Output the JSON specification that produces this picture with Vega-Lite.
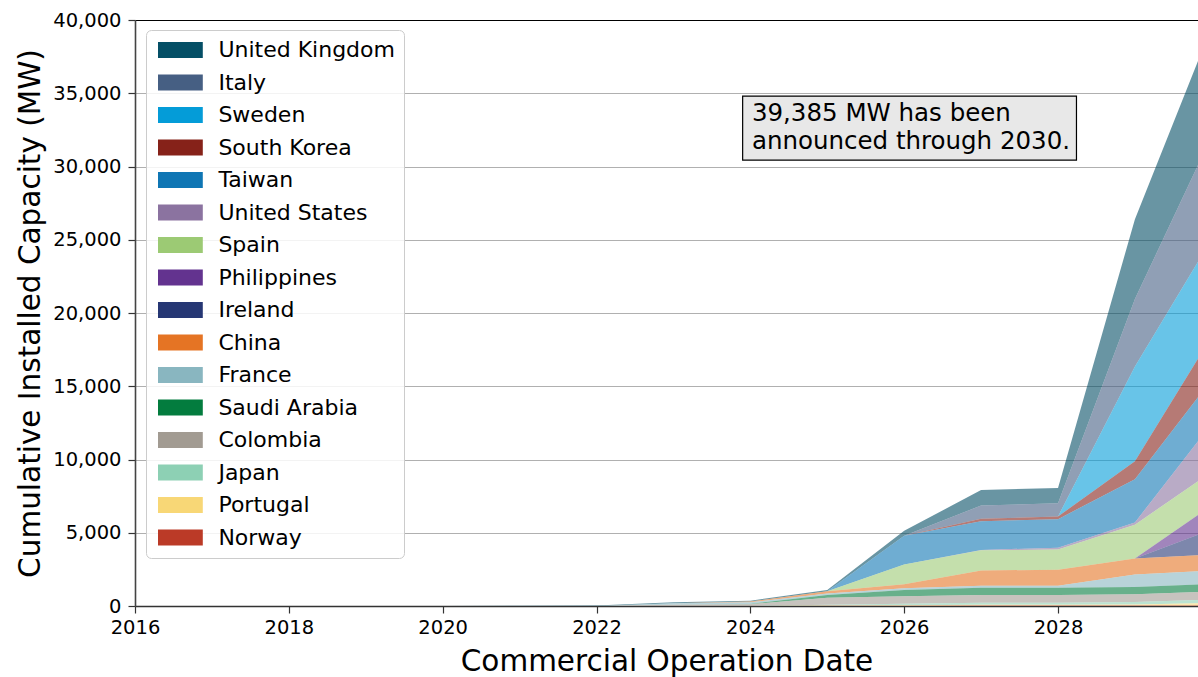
{
  "$schema": "https://vega.github.io/schema/vega-lite/v6.json",
  "width": 1063,
  "height": 586,
  "autosize": {"type": "none"},
  "padding": {"left": 135, "top": 20, "right": 0, "bottom": 71},
  "background": "white",
  "config": {"font": "DejaVu Sans", "view": {"stroke": null}},
  "resolve": {"axis": {"x": "independent"}},
  "layer": [
    {
      "data": {"values": [
        {"year":2020,"country":"United Kingdom","mw":0},{"year":2021,"country":"United Kingdom","mw":20},{"year":2022,"country":"United Kingdom","mw":40},{"year":2023,"country":"United Kingdom","mw":60},{"year":2024,"country":"United Kingdom","mw":60},{"year":2025,"country":"United Kingdom","mw":90},{"year":2026,"country":"United Kingdom","mw":350},{"year":2027,"country":"United Kingdom","mw":1050},{"year":2028,"country":"United Kingdom","mw":1050},{"year":2029,"country":"United Kingdom","mw":5450},{"year":2030,"country":"United Kingdom","mw":7450},
        {"year":2020,"country":"Italy","mw":0},{"year":2021,"country":"Italy","mw":0},{"year":2022,"country":"Italy","mw":0},{"year":2023,"country":"Italy","mw":0},{"year":2024,"country":"Italy","mw":0},{"year":2025,"country":"Italy","mw":0},{"year":2026,"country":"Italy","mw":0},{"year":2027,"country":"Italy","mw":900},{"year":2028,"country":"Italy","mw":900},{"year":2029,"country":"Italy","mw":4600},{"year":2030,"country":"Italy","mw":7050},
        {"year":2020,"country":"Sweden","mw":0},{"year":2021,"country":"Sweden","mw":0},{"year":2022,"country":"Sweden","mw":0},{"year":2023,"country":"Sweden","mw":0},{"year":2024,"country":"Sweden","mw":0},{"year":2025,"country":"Sweden","mw":0},{"year":2026,"country":"Sweden","mw":0},{"year":2027,"country":"Sweden","mw":0},{"year":2028,"country":"Sweden","mw":0},{"year":2029,"country":"Sweden","mw":6470},{"year":2030,"country":"Sweden","mw":6650},
        {"year":2020,"country":"South Korea","mw":0},{"year":2021,"country":"South Korea","mw":0},{"year":2022,"country":"South Korea","mw":0},{"year":2023,"country":"South Korea","mw":0},{"year":2024,"country":"South Korea","mw":0},{"year":2025,"country":"South Korea","mw":0},{"year":2026,"country":"South Korea","mw":0},{"year":2027,"country":"South Korea","mw":180},{"year":2028,"country":"South Korea","mw":180},{"year":2029,"country":"South Korea","mw":1230},{"year":2030,"country":"South Korea","mw":2950},
        {"year":2020,"country":"Taiwan","mw":0},{"year":2021,"country":"Taiwan","mw":0},{"year":2022,"country":"Taiwan","mw":0},{"year":2023,"country":"Taiwan","mw":0},{"year":2024,"country":"Taiwan","mw":0},{"year":2025,"country":"Taiwan","mw":0},{"year":2026,"country":"Taiwan","mw":1950},{"year":2027,"country":"Taiwan","mw":1950},{"year":2028,"country":"Taiwan","mw":1950},{"year":2029,"country":"Taiwan","mw":2950},{"year":2030,"country":"Taiwan","mw":3000},
        {"year":2020,"country":"United States","mw":0},{"year":2021,"country":"United States","mw":0},{"year":2022,"country":"United States","mw":0},{"year":2023,"country":"United States","mw":0},{"year":2024,"country":"United States","mw":0},{"year":2025,"country":"United States","mw":0},{"year":2026,"country":"United States","mw":0},{"year":2027,"country":"United States","mw":20},{"year":2028,"country":"United States","mw":130},{"year":2029,"country":"United States","mw":150},{"year":2030,"country":"United States","mw":3300},
        {"year":2020,"country":"Spain","mw":0},{"year":2021,"country":"Spain","mw":0},{"year":2022,"country":"Spain","mw":0},{"year":2023,"country":"Spain","mw":0},{"year":2024,"country":"Spain","mw":0},{"year":2025,"country":"Spain","mw":0},{"year":2026,"country":"Spain","mw":1350},{"year":2027,"country":"Spain","mw":1380},{"year":2028,"country":"Spain","mw":1380},{"year":2029,"country":"Spain","mw":2300},{"year":2030,"country":"Spain","mw":2300},
        {"year":2020,"country":"Philippines","mw":0},{"year":2021,"country":"Philippines","mw":0},{"year":2022,"country":"Philippines","mw":0},{"year":2023,"country":"Philippines","mw":0},{"year":2024,"country":"Philippines","mw":0},{"year":2025,"country":"Philippines","mw":0},{"year":2026,"country":"Philippines","mw":0},{"year":2027,"country":"Philippines","mw":0},{"year":2028,"country":"Philippines","mw":0},{"year":2029,"country":"Philippines","mw":0},{"year":2030,"country":"Philippines","mw":1650},
        {"year":2020,"country":"Ireland","mw":0},{"year":2021,"country":"Ireland","mw":0},{"year":2022,"country":"Ireland","mw":0},{"year":2023,"country":"Ireland","mw":0},{"year":2024,"country":"Ireland","mw":0},{"year":2025,"country":"Ireland","mw":0},{"year":2026,"country":"Ireland","mw":0},{"year":2027,"country":"Ireland","mw":0},{"year":2028,"country":"Ireland","mw":0},{"year":2029,"country":"Ireland","mw":0},{"year":2030,"country":"Ireland","mw":1700},
        {"year":2020,"country":"China","mw":0},{"year":2021,"country":"China","mw":0},{"year":2022,"country":"China","mw":0},{"year":2023,"country":"China","mw":0},{"year":2024,"country":"China","mw":50},{"year":2025,"country":"China","mw":140},{"year":2026,"country":"China","mw":270},{"year":2027,"country":"China","mw":1050},{"year":2028,"country":"China","mw":1090},{"year":2029,"country":"China","mw":1100},{"year":2030,"country":"China","mw":1100},
        {"year":2020,"country":"France","mw":0},{"year":2021,"country":"France","mw":0},{"year":2022,"country":"France","mw":0},{"year":2023,"country":"France","mw":100},{"year":2024,"country":"France","mw":110},{"year":2025,"country":"France","mw":110},{"year":2026,"country":"France","mw":130},{"year":2027,"country":"France","mw":130},{"year":2028,"country":"France","mw":130},{"year":2029,"country":"France","mw":850},{"year":2030,"country":"France","mw":920},
        {"year":2020,"country":"Saudi Arabia","mw":0},{"year":2021,"country":"Saudi Arabia","mw":0},{"year":2022,"country":"Saudi Arabia","mw":0},{"year":2023,"country":"Saudi Arabia","mw":0},{"year":2024,"country":"Saudi Arabia","mw":20},{"year":2025,"country":"Saudi Arabia","mw":180},{"year":2026,"country":"Saudi Arabia","mw":420},{"year":2027,"country":"Saudi Arabia","mw":500},{"year":2028,"country":"Saudi Arabia","mw":500},{"year":2029,"country":"Saudi Arabia","mw":500},{"year":2030,"country":"Saudi Arabia","mw":500},
        {"year":2020,"country":"Colombia","mw":0},{"year":2021,"country":"Colombia","mw":0},{"year":2022,"country":"Colombia","mw":0},{"year":2023,"country":"Colombia","mw":90},{"year":2024,"country":"Colombia","mw":120},{"year":2025,"country":"Colombia","mw":480},{"year":2026,"country":"Colombia","mw":520},{"year":2027,"country":"Colombia","mw":520},{"year":2028,"country":"Colombia","mw":520},{"year":2029,"country":"Colombia","mw":520},{"year":2030,"country":"Colombia","mw":560},
        {"year":2020,"country":"Japan","mw":0},{"year":2021,"country":"Japan","mw":0},{"year":2022,"country":"Japan","mw":0},{"year":2023,"country":"Japan","mw":0},{"year":2024,"country":"Japan","mw":0},{"year":2025,"country":"Japan","mw":60},{"year":2026,"country":"Japan","mw":100},{"year":2027,"country":"Japan","mw":150},{"year":2028,"country":"Japan","mw":150},{"year":2029,"country":"Japan","mw":180},{"year":2030,"country":"Japan","mw":230},
        {"year":2020,"country":"Portugal","mw":0},{"year":2021,"country":"Portugal","mw":0},{"year":2022,"country":"Portugal","mw":0},{"year":2023,"country":"Portugal","mw":0},{"year":2024,"country":"Portugal","mw":0},{"year":2025,"country":"Portugal","mw":20},{"year":2026,"country":"Portugal","mw":30},{"year":2027,"country":"Portugal","mw":50},{"year":2028,"country":"Portugal","mw":50},{"year":2029,"country":"Portugal","mw":60},{"year":2030,"country":"Portugal","mw":170},
        {"year":2020,"country":"Norway","mw":0},{"year":2021,"country":"Norway","mw":0},{"year":2022,"country":"Norway","mw":0},{"year":2023,"country":"Norway","mw":0},{"year":2024,"country":"Norway","mw":0},{"year":2025,"country":"Norway","mw":10},{"year":2026,"country":"Norway","mw":20},{"year":2027,"country":"Norway","mw":30},{"year":2028,"country":"Norway","mw":30},{"year":2029,"country":"Norway","mw":40},{"year":2030,"country":"Norway","mw":40}
      ]},
      "transform": [
        {"calculate": "indexof(['Norway','Portugal','Japan','Colombia','Saudi Arabia','France','China','Ireland','Philippines','Spain','United States','Taiwan','South Korea','Sweden','Italy','United Kingdom'], datum.country)", "as": "ord"}
      ],
      "mark": {"type": "area", "opacity": 0.6, "clip": true, "interpolate": "linear"},
      "encoding": {
        "x": {
          "field": "year", "type": "quantitative",
          "scale": {"domain": [2016, 2029.82], "nice": false, "zero": false},
          "axis": {
            "title": "Commercial Operation Date", "titleFontSize": 29.5, "titleFontWeight": "normal", "titleColor": "black", "titlePadding": 11,
            "values": [2016, 2018, 2020, 2022, 2024, 2026, 2028], "format": "d",
            "labelFontSize": 19.5, "labelColor": "black", "labelPadding": 5, "labelFlush": false,
            "tickSize": 7, "tickColor": "#333333", "tickWidth": 1.2,
            "domainColor": "#333333", "domainWidth": 1.6, "grid": false
          }
        },
        "y": {
          "field": "mw", "type": "quantitative", "stack": "zero",
          "scale": {"domain": [0, 40000], "nice": false},
          "axis": {
            "title": "Cumulative Installed Capacity (MW)", "titleFontSize": 29.5, "titleFontWeight": "normal", "titleColor": "black", "titlePadding": 7,
            "values": [0, 5000, 10000, 15000, 20000, 25000, 30000, 35000, 40000], "format": ",.0f",
            "labelFontSize": 19.5, "labelColor": "black", "labelPadding": 7,
            "tickSize": 7, "tickColor": "#333333", "tickWidth": 1.2,
            "domainColor": "#444444", "domainWidth": 1.6,
            "grid": true, "gridColor": "#b0b0b0", "gridWidth": 1.2
          }
        },
        "color": {
          "field": "country", "type": "nominal",
          "scale": {
            "domain": ["United Kingdom","Italy","Sweden","South Korea","Taiwan","United States","Spain","Philippines","Ireland","China","France","Saudi Arabia","Colombia","Japan","Portugal","Norway"],
            "range": ["#054f66","#465f83","#049cd8","#862219","#0f76b4","#8b73a0","#9cca74","#63338f","#263774","#e57424","#89b6c0","#037c3e","#a29b92","#8dd0b4","#f8d776","#bb3a27"]
          },
          "legend": {
            "orient": "none", "legendX": 11, "legendY": 10, "title": null,
            "symbolType": "M-2.8,-1H2.8V1H-2.8Z", "symbolSize": 256, "symbolOffset": 14.4, "symbolOpacity": 1, "symbolStrokeWidth": 0,
            "labelFontSize": 22, "labelColor": "black", "labelOffset": 27, "labelLimit": 400,
            "rowPadding": 10.5, "padding": 9,
            "strokeColor": "#cccccc", "fillColor": "rgba(255,255,255,0.85)", "cornerRadius": 5
          }
        },
        "order": {"field": "ord", "type": "quantitative", "sort": "ascending"}
      }
    },
    {
      "data": {"values": [{"xa": 2023.9, "xb": 2028.24, "ya": 30440, "yb": 34810}]},
      "mark": {"type": "rect", "fill": "#e8e8e8", "stroke": "black", "strokeWidth": 1.2},
      "encoding": {
        "x": {"field": "xa", "type": "quantitative", "axis": {"orient": "top", "labels": false, "ticks": false, "grid": false, "title": null, "domainColor": "black", "domainWidth": 1}},
        "x2": {"field": "xb"},
        "y": {"field": "ya", "type": "quantitative"},
        "y2": {"field": "yb"}
      }
    },
    {
      "data": {"values": [{"tx": 2024.02, "ty": 33600, "label": "39,385 MW has been\nannounced through 2030."}]},
      "mark": {"type": "text", "align": "left", "baseline": "middle", "lineBreak": "\n", "lineHeight": 28.5, "fontSize": 24.5, "color": "black"},
      "encoding": {
        "x": {"field": "tx", "type": "quantitative", "axis": null},
        "y": {"field": "ty", "type": "quantitative"},
        "text": {"field": "label"}
      }
    }
  ]
}
